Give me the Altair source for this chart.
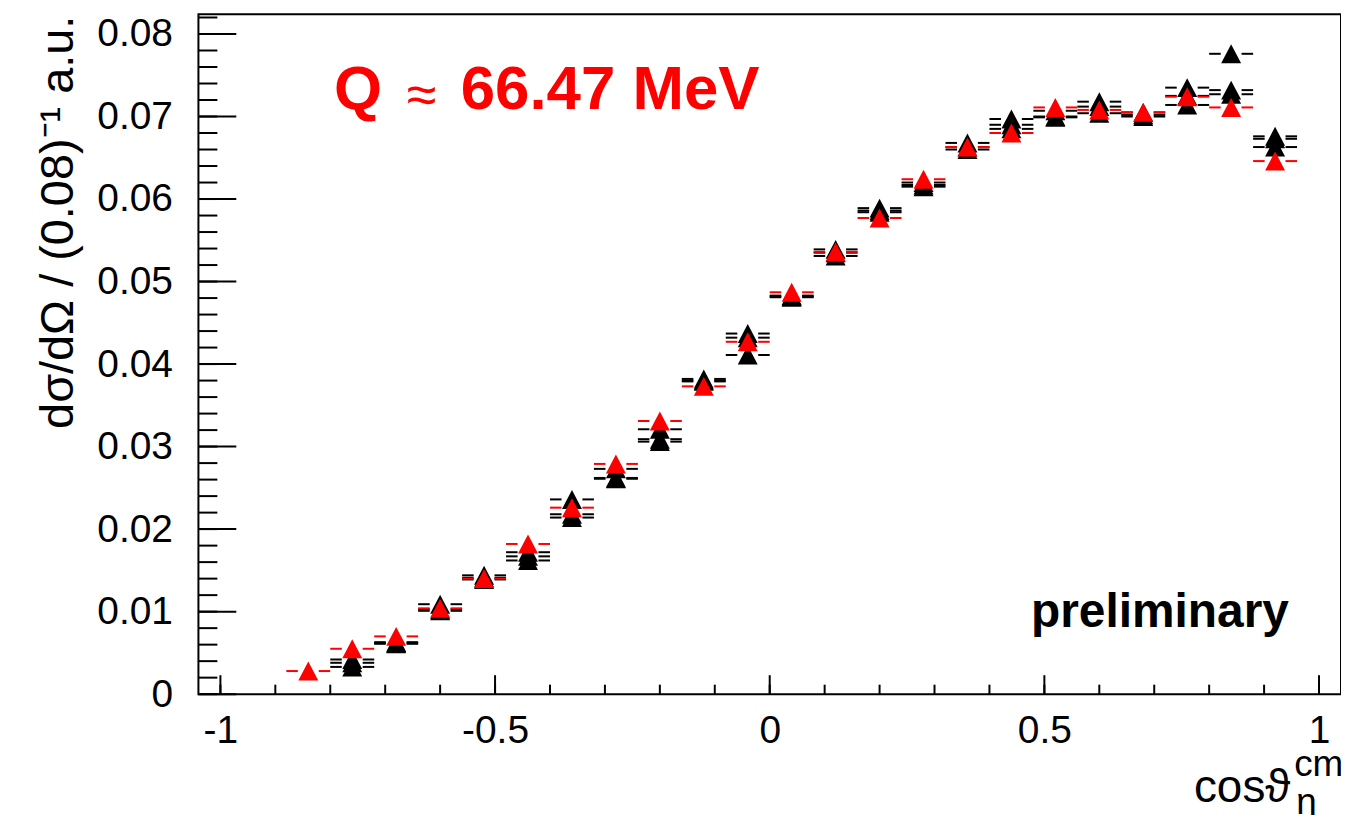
import altair as alt
import pandas as pd

# ---------------- data ----------------
xc = [-0.84, -0.76, -0.68, -0.60, -0.52, -0.44, -0.36, -0.28, -0.20, -0.12, -0.04,
      0.04, 0.12, 0.20, 0.28, 0.36, 0.44, 0.52, 0.60, 0.68, 0.76, 0.84, 0.92]

red = [0.0028, 0.0055, 0.0070, 0.0104, 0.0140, 0.0182, 0.0226, 0.0279, 0.0331, 0.0373, 0.0427,
       0.0487, 0.0536, 0.0577, 0.0624, 0.0663, 0.0680, 0.0711, 0.0708, 0.0705, 0.0724, 0.0711, 0.0646]

black_a = [None, 0.0042, 0.0063, 0.0109, 0.0144, 0.0172, 0.0236, 0.0273, 0.0321, 0.0382, 0.0437,
           0.0483, 0.0539, 0.0589, 0.0620, 0.0668, 0.0697, 0.0707, 0.0718, 0.0705, 0.0735, 0.0776, 0.0676]
black_b = [None, 0.0033, 0.0061, 0.0101, 0.0139, 0.0167, 0.0214, 0.0261, 0.0306, 0.0379, 0.0432,
           0.0481, 0.0531, 0.0584, 0.0615, 0.0660, 0.0685, 0.0699, 0.0704, 0.0700, 0.0714, 0.0732, 0.0663]
black_c = [None, 0.0038, 0.0062, 0.0103, 0.0141, 0.0162, 0.0218, 0.0262, 0.0309, 0.0380, 0.0411,
           0.0482, 0.0535, 0.0586, 0.0617, 0.0663, 0.0690, 0.0700, 0.0712, 0.0702, 0.0725, 0.0727, 0.0673]

bin_half = 0.04

x_major = [-1, -0.5, 0, 0.5, 1]
x_minor = [-1.0, -0.9, -0.8, -0.7, -0.6, -0.5, -0.4, -0.3, -0.2, -0.1, 0.0,
           0.1, 0.2, 0.3, 0.4, 0.5, 0.6, 0.7, 0.8, 0.9, 1.0]
y_major = [0, 0.01, 0.02, 0.03, 0.04, 0.05, 0.06, 0.07, 0.08]
y_minor = [0, 0.002, 0.004, 0.006, 0.008, 0.01, 0.012, 0.014, 0.016, 0.018, 0.02,
           0.022, 0.024, 0.026, 0.028, 0.03, 0.032, 0.034, 0.036, 0.038, 0.04,
           0.042, 0.044, 0.046, 0.048, 0.05, 0.052, 0.054, 0.056, 0.058, 0.06,
           0.062, 0.064, 0.066, 0.068, 0.07, 0.072, 0.074, 0.076, 0.078, 0.08, 0.082]

rows = []
for name, col, vals in [("black_a", "black", black_a), ("black_b", "black", black_b),
                        ("black_c", "black", black_c), ("red", "red", red)]:
    for x, v in zip(xc, vals):
        if v is not None:
            rows.append({"x": x, "y": v, "series": name, "col": col})
df = pd.DataFrame(rows)

# ---------------- layout ----------------
W, H = 1146, 682
FONT = "Liberation Sans"
GAP = 0.019  # half marker width in x units

xs = alt.Scale(domain=[-1.04, 1.04], nice=False, zero=False)
ys = alt.Scale(domain=[0, 0.0824], nice=False, zero=False)

x_axis = alt.Axis(values=x_major, labelExpr="'' + datum.value", ticks=False, domain=False,
                  grid=False, labelFont=FONT, labelFontSize=39, labelColor="black",
                  labelPadding=17, labelFlush=False, labelOverlap=False,
                  title="cosϑ", titleFont=FONT, titleFontSize=46, titleFontWeight="normal",
                  titleColor="black", titleX=998, titleY=108, titleAlign="left",
                  titleBaseline="alphabetic", titleAnchor="start")
y_axis = alt.Axis(values=y_major, labelExpr="'' + datum.value", ticks=False, domain=False,
                  grid=False, labelFont=FONT, labelFontSize=39, labelColor="black",
                  labelPadding=26, labelFlush=False, labelOverlap=False,
                  title="dσ/dΩ / (0.08)⁻¹ a.u.", titleFont=FONT, titleFontSize=47,
                  titleFontWeight="normal", titleColor="black", titleAngle=270,
                  titleX=-126, titleY=1, titleAlign="right", titleBaseline="alphabetic",
                  titleAnchor="end")

X = lambda f: alt.X(f, scale=xs, axis=x_axis)
Y = lambda f: alt.Y(f, scale=ys, axis=y_axis)

base = alt.Chart(df).transform_calculate(
    xl=f"datum.x - {bin_half}", xg1=f"datum.x - {GAP}",
    xg2=f"datum.x + {GAP}", xr=f"datum.x + {bin_half}")

TRI = "M0,-0.95L-1,0.95L1,0.95Z"


def series_layers(col):
    b = base.transform_filter(alt.datum.col == col)
    left = b.mark_rule(color=col, strokeWidth=2).encode(x=X("xl:Q"), x2="xg1:Q", y=Y("y:Q"))
    right = b.mark_rule(color=col, strokeWidth=2).encode(x=X("xg2:Q"), x2="xr:Q", y=Y("y:Q"))
    pts = b.mark_point(shape=TRI, filled=True, size=400, opacity=1, color=col,
                       strokeWidth=0).encode(x=X("x:Q"), y=Y("y:Q"))
    return [left, right, pts]


xmaj = alt.Chart(pd.DataFrame({"v": x_major})).mark_rule(color="black", strokeWidth=2).encode(
    x=X("v:Q"), y=alt.value(H), y2=alt.value(H - 19))
xmin = alt.Chart(pd.DataFrame({"v": x_minor})).mark_rule(color="black", strokeWidth=2).encode(
    x=X("v:Q"), y=alt.value(H), y2=alt.value(H - 9.5))
ymaj = alt.Chart(pd.DataFrame({"v": y_major})).mark_rule(color="black", strokeWidth=2).encode(
    y=Y("v:Q"), x=alt.value(0), x2=alt.value(38))
ymin = alt.Chart(pd.DataFrame({"v": y_minor})).mark_rule(color="black", strokeWidth=2).encode(
    y=Y("v:Q"), x=alt.value(0), x2=alt.value(19))


def label(text, x, y, size, color="black", weight="normal", align="left"):
    return alt.Chart(pd.DataFrame({"t": [text]})).mark_text(
        font=FONT, fontSize=size, fontWeight=weight, color=color, align=align,
        baseline="alphabetic").encode(x=alt.value(x), y=alt.value(y), text="t:N")


texts = [
    label("Q", 136, 95, 62, "#ff0000", "bold"),
    label("≈", 209, 99, 54, "#ff0000", "normal"),
    label("66.47 MeV", 263, 95, 62, "#ff0000", "bold"),
    label("preliminary", 835, 615, 48, "black", "bold"),
    label("cm", 1099, 764, 37),
    label("η", 1101, 802, 37),
]

layers = [xmin, xmaj, ymin, ymaj] + series_layers("black") + series_layers("red") + texts

chart = alt.layer(*layers).properties(
    width=W, height=H,
    autosize=alt.AutoSizeParams(type="none"),
    padding={"left": 191, "top": 5, "right": 0, "bottom": 120},
    background="white",
).configure_view(stroke="black", strokeWidth=2)

chart.save("out.html", embed_options={"renderer": "svg", "actions": False})
